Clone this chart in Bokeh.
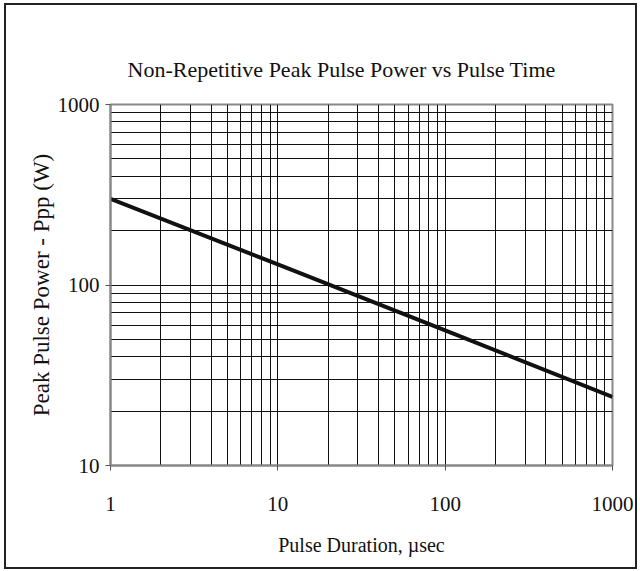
import numpy as np
from bokeh.plotting import figure
from bokeh.models import FixedTicker, Range1d
from bokeh.embed import file_html
from bokeh.resources import INLINE

# Data
pulse_us = [1, 10, 100, 1000]
power_w = [300, 130, 56, 24]
x_ticks = [1, 10, 100, 1000]
y_ticks = [10, 100, 1000]
x_minor = [m * d for d in (1, 10, 100) for m in range(2, 10)]
y_minor = [m * d for d in (10, 100) for m in range(2, 10)]

FONT = "Liberation Serif"

p = figure(
    x_axis_type="log", y_axis_type="log",
    x_range=Range1d(1, 1000), y_range=Range1d(10, 1000),
    frame_width=502, frame_height=361,
    min_border_left=104, min_border_right=23,
    min_border_top=99, min_border_bottom=102,
    output_backend="svg", toolbar_location=None,
    title="Non-Repetitive Peak Pulse Power vs Pulse Time",
)
p.styles = {"border": "2px solid #222", "margin-left": "4px", "margin-top": "3px"}

p.title.text_font = FONT
p.title.text_font_size = "22px"
p.title.text_font_style = "normal"
p.title.text_color = "#111111"
p.title.align = "left"
p.title.offset = 17
p.title.standoff = 45

p.outline_line_color = "#888888"
p.outline_line_width = 2
p.background_fill_color = "white"
p.border_fill_color = "white"

for ax in (p.xaxis[0], p.yaxis[0]):
    ax.axis_line_color = "#888888"
    ax.axis_line_width = 2
    ax.major_tick_line_color = "#555555"
    ax.major_tick_in = 0
    ax.major_tick_out = 5
    ax.minor_tick_line_color = None
    ax.major_label_text_font = FONT
    ax.major_label_text_font_size = "21px"
    ax.major_label_text_color = "#111111"
    ax.axis_label_text_font = FONT
    ax.axis_label_text_font_style = "normal"
    ax.axis_label_text_color = "#111111"

p.xaxis.axis_label_text_font_size = "20px"
p.yaxis.axis_label_text_font_size = "23px"
p.xaxis.ticker = FixedTicker(ticks=x_ticks, minor_ticks=x_minor)
p.yaxis.ticker = FixedTicker(ticks=y_ticks, minor_ticks=y_minor)
p.xaxis.major_label_overrides = {t: str(t) for t in x_ticks}
p.yaxis.major_label_overrides = {t: str(t) for t in y_ticks}
p.xaxis.major_label_standoff = 26
p.yaxis.major_label_standoff = 6
p.xaxis.axis_label_standoff = 20
p.xaxis.axis_label = "Pulse Duration, \u00b5sec"
p.yaxis.axis_label = "Peak Pulse Power - Ppp (W)"
p.yaxis.axis_label_standoff = 1

for g in (p.xgrid[0], p.ygrid[0]):
    g.grid_line_color = "#111111"
    g.grid_line_width = 1
    g.minor_grid_line_color = "#111111"
    g.minor_grid_line_width = 1

p.line(pulse_us, power_w, line_width=4, line_color="#111111")

open("out.html", "w").write(file_html(p, INLINE))
